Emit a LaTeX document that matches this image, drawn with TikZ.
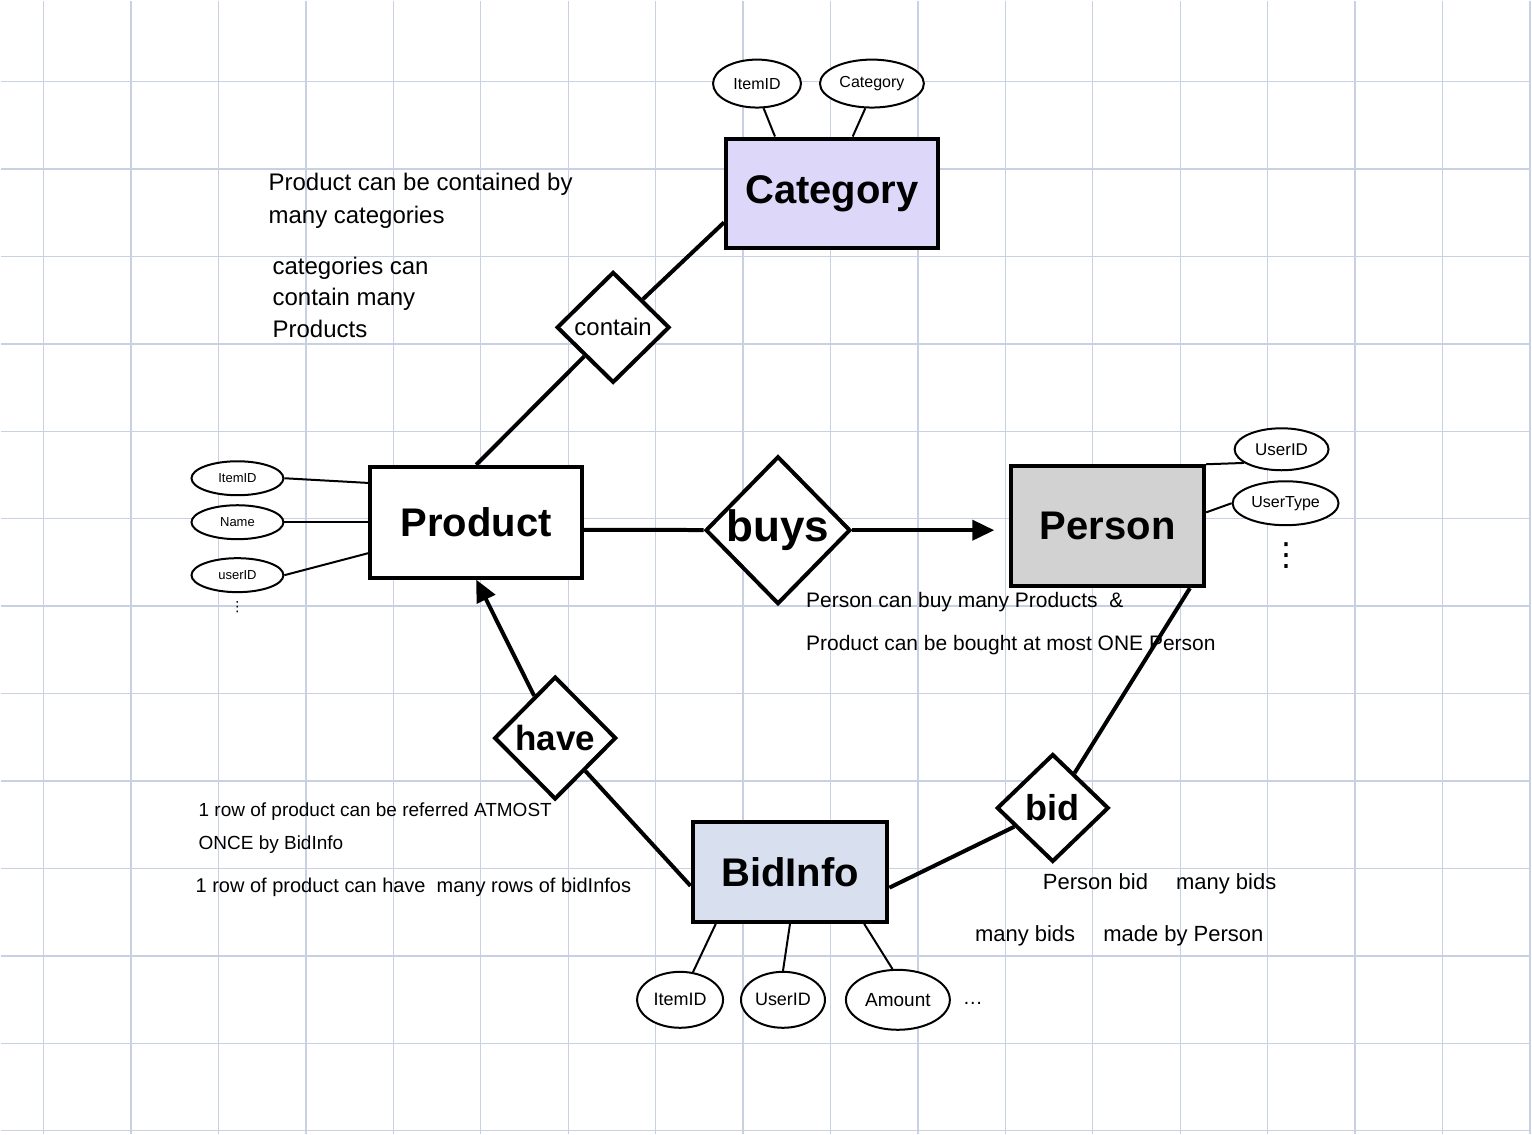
\documentclass[tikz,border=0pt]{standalone}
\usepackage{fontspec}
\setmainfont{Liberation Sans}
\newfontfamily\dotsfont{DejaVu Sans}
\usetikzlibrary{shapes.geometric,arrows.meta}

\begin{document}
\begin{tikzpicture}[x=1pt,y=-1pt,
    entity/.style={draw, line width=4pt, inner sep=0pt, font=\fontsize{40}{44}\selectfont\bfseries},
    rel/.style={draw, diamond, line width=4pt, fill=white, inner sep=0pt},
    attr/.style={draw, ellipse, line width=2pt, inner sep=1pt, fill=white},
    link/.style={line width=4pt},
    attrlink/.style={line width=2pt},
    note/.style={anchor=north west, align=left, inner sep=0pt},
    arr/.style={line width=4pt, -{Triangle[length=22pt,width=20pt]}}]
        \definecolor{gridblue}{RGB}{200,208,228}
        \definecolor{catfill}{RGB}{221,216,250}
        \definecolor{persfill}{RGB}{210,210,210}
        \definecolor{bidfill}{RGB}{216,224,240}

        % paper
        \fill[white] (0,0) rectangle (1532,1134);
        \foreach \k in {0,...,17}
            \draw[gridblue, line width=1.3pt] (43+87.5*\k,0) -- (43+87.5*\k,1134);
        \foreach \k in {0,...,12}
            \draw[gridblue, line width=1.3pt] (0,81+87.5*\k) -- (1532,81+87.5*\k);

        % entities
        \node[entity, fill=catfill, minimum width=212pt, minimum height=110pt] (cat) at (832,193) {Category};
        \node[entity, fill=white, minimum width=212pt, minimum height=111pt] (prod) at (476,522) {Product};
        \node[entity, fill=persfill, minimum width=193pt, minimum height=120pt] (pers) at (1108,526) {Person};
        \node[entity, fill=bidfill, minimum width=195pt, minimum height=100pt] (binfo) at (790,872) {BidInfo};

        % relationships
        \node[rel, minimum width=113pt, minimum height=111pt,
              label={[font=\fontsize{24}{26}\selectfont]center:contain}] (contain) at (613,327) {};
        \node[rel, minimum width=145pt, minimum height=148pt,
              label={[font=\fontsize{44}{48}\selectfont\bfseries]center:buys}] (buys) at (778,530) {};
        \node[rel, minimum width=122pt, minimum height=123pt,
              label={[font=\fontsize{35}{38}\selectfont\bfseries]center:have}] (have) at (555,738) {};
        \node[rel, minimum width=112pt, minimum height=108pt,
              label={[font=\fontsize{36}{38}\selectfont\bfseries]center:bid}] (bid) at (1053,808) {};

        % attributes
        \node[attr, minimum width=88pt, minimum height=48pt, font=\fontsize{16}{18}\selectfont] (catid) at (757,83) {ItemID};
        \node[attr, minimum width=104pt, minimum height=48pt, font=\fontsize{16}{18}\selectfont] (catname) at (872,83) {Category};

        \node[attr, minimum width=92pt, minimum height=34pt, font=\fontsize{13}{15}\selectfont] (pid) at (237,478) {ItemID};
        \node[attr, minimum width=92pt, minimum height=34pt, font=\fontsize{13}{15}\selectfont] (pname) at (237,522) {Name};
        \node[attr, minimum width=92pt, minimum height=34pt, font=\fontsize{13}{15}\selectfont] (puser) at (237,575) {userID};
        \node[inner sep=0pt, font=\dotsfont\fontsize{14}{14}\selectfont] (pdots) at (237,607) {⋮};

        \node[attr, minimum width=94pt, minimum height=42pt, font=\fontsize{17}{19}\selectfont] (uid) at (1282,449) {UserID};
        \node[attr, minimum width=106pt, minimum height=44pt, font=\fontsize{16}{18}\selectfont] (utype) at (1286,503) {UserType};
        \node[inner sep=0pt, font=\dotsfont\fontsize{32}{32}\selectfont] (udots) at (1287,555) {⋮};

        \node[attr, minimum width=86pt, minimum height=56pt, font=\fontsize{18}{20}\selectfont] (bid1) at (680,1000) {ItemID};
        \node[attr, minimum width=84pt, minimum height=56pt, font=\fontsize{18}{20}\selectfont] (bid2) at (783,1000) {UserID};
        \node[attr, minimum width=104pt, minimum height=60pt, font=\fontsize{19}{21}\selectfont] (bid3) at (898,1000) {Amount};
        \node[font=\fontsize{20}{20}\selectfont] (bdots) at (973,1004) {\dots};

        % connectors
        \draw[link] (cat.195) -- (contain);
        \draw[link] (contain) -- (prod.north);
        \draw[link] (prod.-4) -- (buys);
        \draw[arr, shorten >=15pt] (buys) -- (pers.west |- buys);
        \draw[link] (pers.-37) -- (bid);
        \draw[link] (bid) -- (binfo.-9);
        \draw[link] (have) -- (binfo.188);
        \draw[arr] (have) -- (prod.south);

        \draw[attrlink] (catid.-75) -- (cat.135);
        \draw[attrlink] (catname.-105) -- (cat.70);
        \draw[attrlink] (pid.east) -- (prod.160);
        \draw[attrlink] (pname.east) -- (prod.west);
        \draw[attrlink] (puser.east) -- (prod.196);
        \draw[attrlink] (uid.200) -- (pers.north east);
        \draw[attrlink] (utype.west) -- (pers.8);
        \draw[attrlink] (bid1.65) -- (binfo.215);
        \draw[attrlink] (bid2.north) -- (binfo.south);
        \draw[attrlink] (bid3.100) -- (binfo.-35);

        % notes
        \node[note, font=\fontsize{24}{33}\selectfont] (catnote) at (268,172)
            {Product can be contained by\\many categories};
        \node[note, font=\fontsize{24}{32}\selectfont] (catnote2) at (272,256)
            {categories can\\contain many\\Products};
        \node[note, font=\fontsize{21}{43}\selectfont] (buysnote) at (806,592)
            {Person can buy many Products \ \&\\Product can be bought at most ONE Person};
        \node[note, font=\fontsize{19}{33}\selectfont] (havenote) at (198,803)
            {1 row of product can be referred ATMOST\\ONCE by BidInfo};
        \node[note, font=\fontsize{20}{24}\selectfont] (havenote2) at (195,878)
            {1 row of product can have \ many rows of bidInfos};
        \node[note, font=\fontsize{22}{26}\selectfont] (bidnote) at (1043,873)
            {Person bid \quad many bids};
        \node[note, font=\fontsize{22}{26}\selectfont] (bidnote2) at (975,925)
            {many bids \quad made by Person};
\end{tikzpicture}
\end{document}
